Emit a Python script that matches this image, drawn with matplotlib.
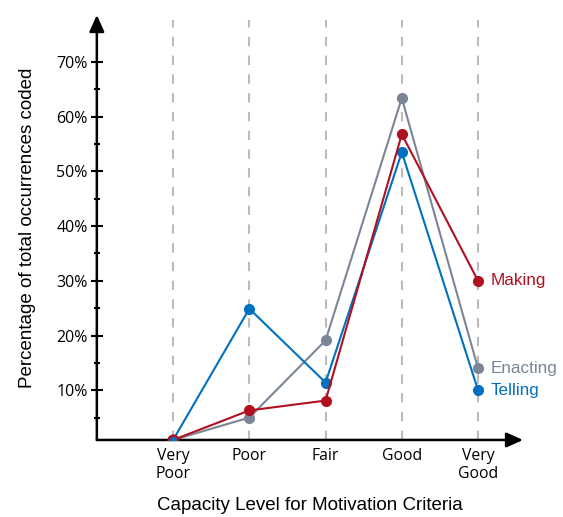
import matplotlib.pyplot as plt
from matplotlib.ticker import FixedLocator

levels = ["Very\nPoor", "Poor", "Fair", "Good", "Very\nGood"]
x_pos = [1, 2, 3, 4, 5]
making = [0.9, 6.3, 8.1, 56.8, 30.0]
enacting = [0.9, 5.0, 19.1, 63.4, 14.0]
telling = [0.9, 24.9, 11.4, 53.5, 10.0]
y_major = [10, 20, 30, 40, 50, 60, 70]
y_minor = [5, 15, 25, 35, 45, 55, 65]

red = "#B01020"
gray = "#7A8595"
blue = "#0070C0"

plt.rcParams["font.family"] = ["Open Sans", "DejaVu Sans"]

fig = plt.figure(figsize=(5.63, 5.17), dpi=100)
ax = fig.add_axes([0.172, 0.149, 0.757, 0.822])
ax.set_xlim(0, 5.59)
ax.set_ylim(0.9, 78.6)

ax.vlines(x_pos, 0.9, 77.6, colors="#BBBBBB", linestyles=(0, (4.5, 4.5)), linewidth=1.5, zorder=1)

ax.plot(x_pos, enacting, color=gray, marker="o", markersize=7, linewidth=1.5, zorder=3)
ax.plot(x_pos, telling, color=blue, marker="o", markersize=7, linewidth=1.5, zorder=4)
ax.plot(x_pos, making, color=red, marker="o", markersize=7, linewidth=1.5, zorder=5)
ax.plot([x_pos[0]], [telling[0]], "o", markersize=7, markerfacecolor=blue,
        markeredgecolor=red, markeredgewidth=1.8, zorder=6)

lab_font = ["Liberation Sans"]
ax.text(5.17, making[4], "Making", color=red, fontsize=12.3, va="center", family=lab_font)
ax.text(5.17, enacting[4], "Enacting", color=gray, fontsize=12.3, va="center", family=lab_font)
ax.text(5.17, telling[4], "Telling", color=blue, fontsize=12.3, va="center", family=lab_font)

for s in ax.spines.values():
    s.set_visible(False)
ax.annotate("", xy=(1.0, 0), xytext=(0, 0), xycoords="axes fraction",
            arrowprops=dict(arrowstyle="-|>,head_length=1.0,head_width=0.45", color="black", lw=1.8, shrinkA=0, shrinkB=0))
ax.annotate("", xy=(0, 1.0), xytext=(0, 0), xycoords="axes fraction",
            arrowprops=dict(arrowstyle="-|>,head_length=1.0,head_width=0.45", color="black", lw=1.8, shrinkA=0, shrinkB=0))

ax.set_xticks(x_pos)
ax.set_xticklabels(levels, fontsize=11.3, linespacing=1.15)
ax.tick_params(axis="x", length=0, pad=6)
ax.yaxis.set_major_locator(FixedLocator(y_major))
ax.yaxis.set_minor_locator(FixedLocator(y_minor))
ax.set_yticklabels([f"{v}%" for v in y_major], fontsize=11.5)
ax.tick_params(axis="y", which="major", direction="inout", length=9, width=1.5, pad=2)
ax.tick_params(axis="y", which="minor", direction="inout", length=5, width=1.5)

ax.set_xlabel("Capacity Level for Motivation Criteria", fontsize=13.5, labelpad=11, family=lab_font)
ax.set_ylabel("Percentage of total occurrences coded", fontsize=13.5, labelpad=15, family=lab_font)

fig.savefig("out.png", dpi=100)
